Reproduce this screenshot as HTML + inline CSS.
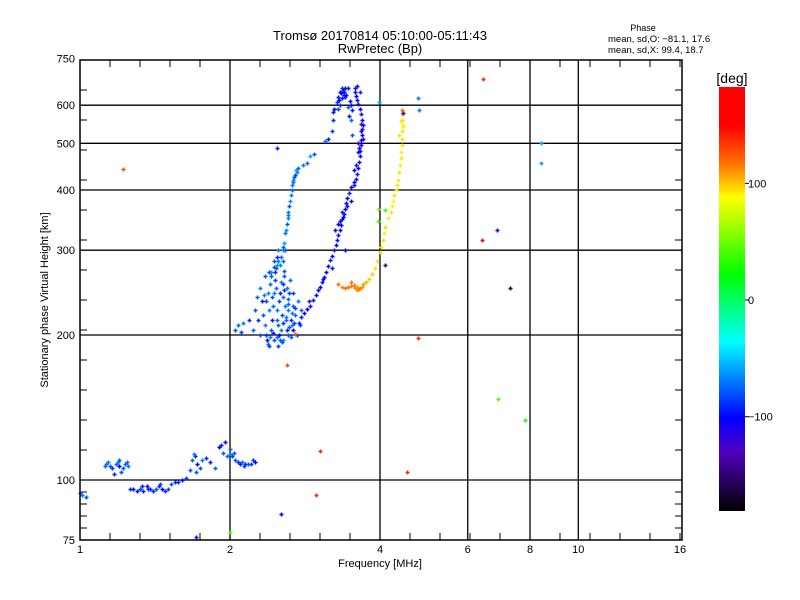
<!DOCTYPE html>
<html><head><meta charset="utf-8"><style>
html,body{margin:0;padding:0;background:#fff;}
svg{display:block;font-family:"Liberation Sans",sans-serif;}
</style></head><body>
<svg id="chart" width="800" height="600" viewBox="0 0 800 600">
<defs>
<linearGradient id="cbgrad" x1="0" y1="0" x2="0" y2="1">
<stop offset="0" stop-color="#ff0000"/><stop offset="0.09" stop-color="#ff0000"/>
<stop offset="0.18" stop-color="#ff7000"/><stop offset="0.26" stop-color="#ffff00"/>
<stop offset="0.44" stop-color="#00ff00"/><stop offset="0.60" stop-color="#00ffff"/>
<stop offset="0.78" stop-color="#0000ff"/><stop offset="0.86" stop-color="#5000c0"/>
<stop offset="1" stop-color="#000000"/>
</linearGradient>
</defs>
<text x="380" y="40" text-anchor="middle" font-size="13">Tromsø 20170814 05:10:00-05:11:43</text>
<text x="380" y="53" text-anchor="middle" font-size="13">RwPretec (Bp)</text>
<text x="643" y="31" text-anchor="middle" font-size="9">Phase</text>
<text x="608" y="42" font-size="9.5">mean, sd,O: −81.1, 17.6</text>
<text x="608" y="53" font-size="9.5">mean, sd,X:  99.4, 18.7</text>
<g id="grid"></g>
<g id="ticks"></g>
<g id="marks"></g>
<rect x="80" y="60" width="602" height="480" fill="none" stroke="#000" stroke-width="1.5"/>
<g id="xlabels" font-size="11" text-anchor="middle"></g>
<g id="ylabels" font-size="11" text-anchor="end"></g>
<text x="380" y="567" text-anchor="middle" font-size="11">Frequency [MHz]</text>
<text transform="translate(48,300) rotate(-90)" text-anchor="middle" font-size="11">Stationary phase Virtual Height [km]</text>
<text x="732" y="83" text-anchor="middle" font-size="14">[deg]</text>
<rect x="719" y="87" width="26" height="424" fill="url(#cbgrad)"/>
<g id="cblabels" font-size="11"></g>
</svg>
<script>
const xTicks=[1,2,4,6,8,10,16];
const yTicks=[75,100,200,300,400,500,600,750];
const xGrid=[2,4,6,8,10];
const yGrid=[100,200,300,400,500,600];
const cbTicks=[100,0,-100];
// E-region trace
const fE=[1.0,1.01,1.03,1.12,1.13,1.15,1.16,1.18,1.19,1.2,1.22,1.23,1.25,1.17,1.21,1.26,1.28,1.3,1.32,1.34,1.36,1.38,1.4,1.42,1.44,1.46,1.48,1.5,1.52,1.55,1.57,1.6,1.63,1.66,1.68,1.7,1.72,1.74,1.76,1.79,1.82,1.87,1.9,1.92,1.94,1.97,2.0,2.02,2.05,2.08,2.11,2.14,2.17,2.2,2.22,2.25,1.14,1.2,1.24,1.33,1.37,1.45,1.69,1.71,1.95,2.0,2.04,2.09,2.13];
const hE=[94,93,92,107,108,107,106,108,109,107,106,108,107,103,104,96,96,95,96,95,97,96,95,96,97,96,95,96,98,99,99,100,101,105,110,112,108,106,110,111,109,106,117,118,114,112,113,112,110,109,109,108,108,108,110,109,109,110,109,97,96,98,113,104,120,116,114,108,107];
const pE=[-75,-70,-80,-75,-70,-80,-90,-75,-70,-100,-80,-75,-70,-95,-80,-90,-100,-95,-85,-90,-100,-95,-90,-80,-95,-100,-90,-85,-80,-95,-90,-100,-85,-80,-75,-95,-100,-80,-70,-90,-110,-75,-100,-95,-80,-75,-70,-85,-80,-90,-75,-95,-80,-85,-90,-100,-70,-80,-75,-95,-90,-85,-70,-80,-100,-75,-80,-90,-85];
// F blob
const fB=[2.05,2.08,2.1,2.12,2.18,2.25,2.27,2.3,2.32,2.33,2.35,2.36,2.37,2.38,2.4,2.41,2.42,2.43,2.44,2.45,2.46,2.47,2.48,2.49,2.5,2.51,2.52,2.53,2.54,2.55,2.56,2.57,2.58,2.59,2.6,2.61,2.62,2.63,2.64,2.65,2.66,2.67,2.68,2.7,2.72,2.74,2.76,2.78,2.4,2.45,2.5,2.55,2.58,2.35,2.38,2.28,2.22,2.45,2.5,2.55,2.65,2.42,2.52,2.6,2.68,2.3,2.48,2.56,2.39,2.43,2.47,2.51,2.53,2.57,2.61,2.63,2.66,2.69,2.44,2.49,2.54,2.59,2.36,2.41,2.46,2.52,2.57,2.62,2.34,2.7];
const hB=[205,210,203,212,215,225,240,250,235,220,210,200,195,192,190,198,205,215,230,245,260,275,290,225,210,200,195,205,220,240,255,265,230,215,205,200,225,245,260,215,210,230,205,220,200,235,210,225,270,285,300,285,300,265,245,215,205,195,190,195,198,265,245,250,245,200,215,212,225,240,250,235,258,248,238,208,222,212,202,198,193,218,235,255,270,280,272,232,242,228];
const pB=[-80,-75,-85,-70,-90,-80,-75,-70,-95,-80,-70,-90,-100,-75,-85,-70,-80,-95,-75,-70,-85,-80,-90,-70,-75,-100,-80,-70,-85,-75,-90,-80,-70,-75,-95,-80,-70,-85,-75,-90,-70,-80,-100,-75,-85,-70,-80,-75,-90,-80,-70,-75,-85,-80,-70,-90,-75,-80,-85,-70,-75,-80,-95,-70,-85,-80,-75,-90,-70,-80,-75,-85,-70,-90,-75,-80,-70,-85,-95,-75,-80,-70,-85,-75,-90,-70,-80,-75,-70,-85];
// Left (lower) O branch
const fL=[2.62,2.64,2.66,2.65,2.63,2.66,2.68,2.7,2.72,2.71,2.74,2.62,2.6,2.58,2.57,2.55,2.53,2.5,2.48,2.45,2.42,2.8,2.85,2.9,2.95,3.1,3.15,3.2,3.22,3.22,3.24,3.28,3.3,3.33,3.35,3.37,3.38,3.36,3.32,3.3,3.34,3.4,3.45,3.5,3.52,3.42,3.45,2.61,2.59,2.56,2.67,2.69,3.31,3.39,3.41];
const hL=[360,380,400,390,370,410,420,430,435,440,445,350,340,325,310,300,290,285,280,277,270,450,455,470,475,505,510,530,560,580,590,610,625,640,650,645,630,620,600,590,635,650,595,560,520,630,650,355,330,305,415,425,615,640,625];
const pL=[-70,-65,-75,-70,-80,-70,-65,-85,-70,-60,-75,-65,-80,-70,-60,-65,-75,-70,-60,-80,-65,-70,-75,-60,-80,-70,-95,-85,-90,-95,-100,-90,-95,-100,-90,-95,-100,-95,-90,-85,-100,-95,-80,-75,-80,-100,-95,-70,-65,-75,-70,-80,-100,-95,-90];
// Right (upper) O branch
const fR=[2.75,2.78,2.82,2.86,2.9,2.94,2.98,3.0,3.03,3.06,3.09,3.12,3.15,3.17,3.2,3.23,3.26,3.28,3.3,3.32,3.34,3.36,3.38,3.4,3.42,3.44,3.47,3.5,3.55,3.58,3.6,3.62,3.63,3.64,3.65,3.66,3.67,3.68,3.68,3.67,3.68,3.66,3.64,3.62,3.6,3.58,3.57,3.56,3.6,3.65,3.48,3.5,3.52,3.46,3.25,3.3,3.35,3.5,3.4,3.2,3.62,3.7,3.58,3.55,3.33,3.37,3.43,3.61,3.66,3.69,3.63,3.54,2.88,3.08];
const hR=[212,218,222,226,230,236,242,248,252,258,264,270,278,286,292,300,308,315,322,330,338,348,356,365,375,385,395,405,415,422,432,445,458,470,482,495,508,520,535,548,560,575,590,602,615,628,640,652,658,640,612,600,585,570,330,340,360,380,300,275,480,510,450,440,345,352,370,500,530,545,490,410,235,262];
const pR=[-100,-95,-105,-100,-110,-95,-100,-105,-100,-95,-110,-100,-105,-95,-100,-110,-100,-95,-105,-100,-100,-110,-95,-100,-105,-100,-95,-110,-100,-105,-95,-100,-110,-100,-95,-105,-100,-100,-110,-95,-100,-105,-100,-95,-110,-100,-105,-95,-100,-90,-100,-105,-95,-100,-110,-100,-95,-105,-100,-95,-100,-110,-95,-100,-105,-100,-95,-110,-100,-105,-100,-95,-110,-100];
// X trace
const fX=[3.3,3.35,3.4,3.45,3.5,3.55,3.6,3.65,3.7,3.75,3.8,3.85,3.9,3.95,4.0,4.02,4.05,4.08,4.1,4.15,4.2,4.22,4.25,4.27,4.3,4.32,4.34,4.36,4.38,4.4,4.41,4.42,4.43,4.43,4.44,4.43,4.42,4.42,3.5,3.6,3.57,3.63,3.68,4.37,4.45,4.4];
const hX=[255,252,250,251,253,254,252,250,255,258,262,268,275,285,297,305,315,325,335,350,360,370,380,390,400,410,420,435,450,465,480,495,510,530,545,560,575,585,258,248,250,249,252,520,540,555];
const pX=[120,115,120,118,115,118,112,115,110,105,100,100,95,95,95,92,95,92,95,92,95,92,90,95,92,95,92,95,92,95,92,95,95,95,92,95,105,120,118,112,115,118,112,95,90,95];
// Scattered outliers
const fO=[1.22,2.48,2.53,1.71,2.0,2.6,2.7,2.97,3.03,4.53,4.77,6.44,6.4,6.87,7.3,8.4,8.4,6.9,7.8,4.77,4.78,4.45,3.98,3.97,3.97,4.1,4.1];
const hO=[443,490,85,76,78,173,201,93,115,104,197,680,315,330,250,500,455,147,133,620,585,578,610,365,345,280,364];
const pO=[130,-110,-100,-100,40,130,130,140,140,140,140,140,160,-140,-170,-60,-60,40,30,-70,-70,-130,-60,60,40,-150,40];

const NS='http://www.w3.org/2000/svg';
const X0=80,XPO=150,Y100=480,YPD=481.7;
function xs(f){return X0+XPO*Math.log2(f);}
function ys(h){return Y100-YPD*Math.log10(h/100);}
const stops=[[-180,[0,0,0]],[-150,[60,0,90]],[-125,[80,0,192]],[-100,[0,0,255]],[-37,[0,255,255]],[23,[0,255,0]],[88,[255,255,0]],[120,[255,112,0]],[150,[255,0,0]],[180,[255,0,0]]];
function color(p){
  for(let i=0;i<stops.length-1;i++){
    const a=stops[i],b=stops[i+1];
    if(p<=b[0]){const t=Math.max(0,(p-a[0])/(b[0]-a[0]));
      const c=a[1].map((v,k)=>Math.round(v+(b[1][k]-v)*t));return `rgb(${c[0]},${c[1]},${c[2]})`;}
  }
  return 'rgb(255,0,0)';
}
function mk(tag,attrs,parent){const e=document.createElementNS(NS,tag);for(const k in attrs)e.setAttribute(k,attrs[k]);parent.appendChild(e);return e;}
const grid=document.getElementById('grid');
xGrid.forEach(v=>{const l=mk('line',{x1:xs(v),x2:xs(v),y1:60,y2:540,stroke:'#000','stroke-width':1.3},grid);

});
yGrid.forEach(v=>{const l=mk('line',{x1:80,x2:682,y1:ys(v),y2:ys(v),stroke:'#000','stroke-width':1.3},grid);

});
const ticks=document.getElementById('ticks');
for(let x=110;x<682;x+=30){mk('line',{x1:x,x2:x,y1:540,y2:533,stroke:'#000'},ticks);mk('line',{x1:x,x2:x,y1:60,y2:67,stroke:'#000'},ticks);}
for(let y=450;y>60;y-=30){mk('line',{x1:80,x2:87,y1:y,y2:y,stroke:'#000'},ticks);mk('line',{x1:682,x2:675,y1:y,y2:y,stroke:'#000'},ticks);}
for(let y=492;y<540;y+=12){mk('line',{x1:80,x2:87,y1:y,y2:y,stroke:'#000'},ticks);mk('line',{x1:682,x2:675,y1:y,y2:y,stroke:'#000'},ticks);}
const xl=document.getElementById('xlabels');
xTicks.forEach(v=>{const t=mk('text',{x:xs(v),y:553},xl);t.textContent=v;

});
const yl=document.getElementById('ylabels');
yTicks.forEach(v=>{const t=mk('text',{x:75,y:ys(v)+4},yl);t.textContent=v;

});
const cbl=document.getElementById('cblabels');
cbTicks.forEach(v=>{const y=300-v*1.167;mk('line',{x1:745,x2:749,y1:y,y2:y,stroke:'#000'},cbl);
const t=mk('text',{x:748,y:y+4},cbl);t.textContent=(v<0?'−':'')+Math.abs(v);

});
const marks=document.getElementById('marks');
function plot(F,H,P,name){
  for(let i=0;i<F.length;i++){
    const x=Math.round(xs(F[i]))+0.5,y=Math.round(ys(H[i]))+0.5;
    const p=mk('path',{d:`M${x-2} ${y}H${x+2}M${x} ${y-2}V${y+2}`,stroke:color(P[i]),'stroke-width':1.5,fill:'none'},marks);
    
    
  }
}
plot(fE,hE,pE,'e-trace-point');
plot(fB,hB,pB,'f-blob-point');
plot(fL,hL,pL,'o-lower-branch-point');
plot(fR,hR,pR,'o-upper-branch-point');
plot(fX,hX,pX,'x-trace-point');
plot(fO,hO,pO,'outlier-point');
</script>
</body></html>
